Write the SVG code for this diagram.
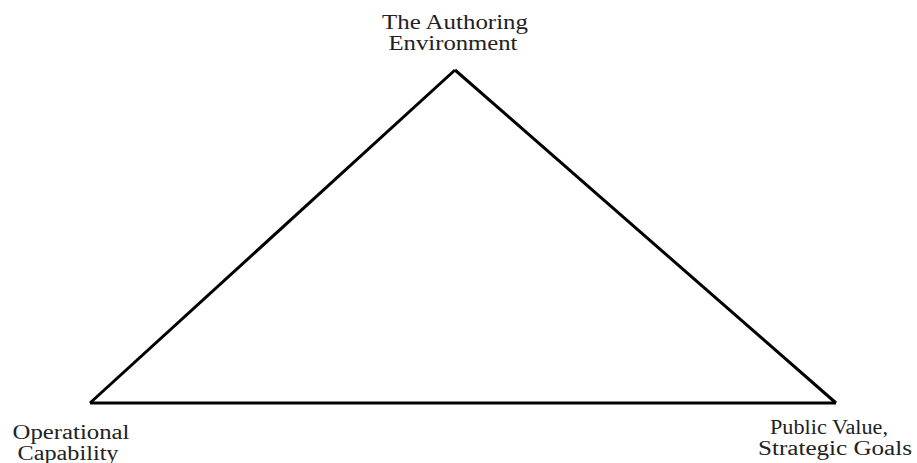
<svg xmlns="http://www.w3.org/2000/svg" width="917" height="463" viewBox="0 0 917 463">
<style>
.lbl{font-family:"Liberation Serif","Times New Roman",serif;font-size:20px;fill:#222;text-anchor:middle}
.edge{stroke:#000;stroke-width:3;fill:none;stroke-linejoin:miter}
</style>
<rect width="917" height="463" fill="#fff"/>
<g id="connectors">
<path class="edge" d="M455,70 L90,403"/>
<path class="edge" d="M455,70 L836,403"/>
<path class="edge" d="M90,403 L836,403"/>
</g>
<g id="node-authoring">
<text class="lbl" x="455" y="29" textLength="146" lengthAdjust="spacingAndGlyphs">The Authoring</text>
<text class="lbl" x="453" y="50" textLength="129" lengthAdjust="spacingAndGlyphs">Environment</text>
</g>
<g id="node-operational">
<text class="lbl" x="71" y="439" textLength="117" lengthAdjust="spacingAndGlyphs">Operational</text>
<text class="lbl" x="68" y="460" textLength="101" lengthAdjust="spacingAndGlyphs">Capability</text>
</g>
<g id="node-public">
<text class="lbl" x="829" y="434" textLength="118" lengthAdjust="spacingAndGlyphs">Public Value,</text>
<text class="lbl" x="835" y="455" textLength="154" lengthAdjust="spacingAndGlyphs">Strategic Goals</text>
</g>
</svg>
